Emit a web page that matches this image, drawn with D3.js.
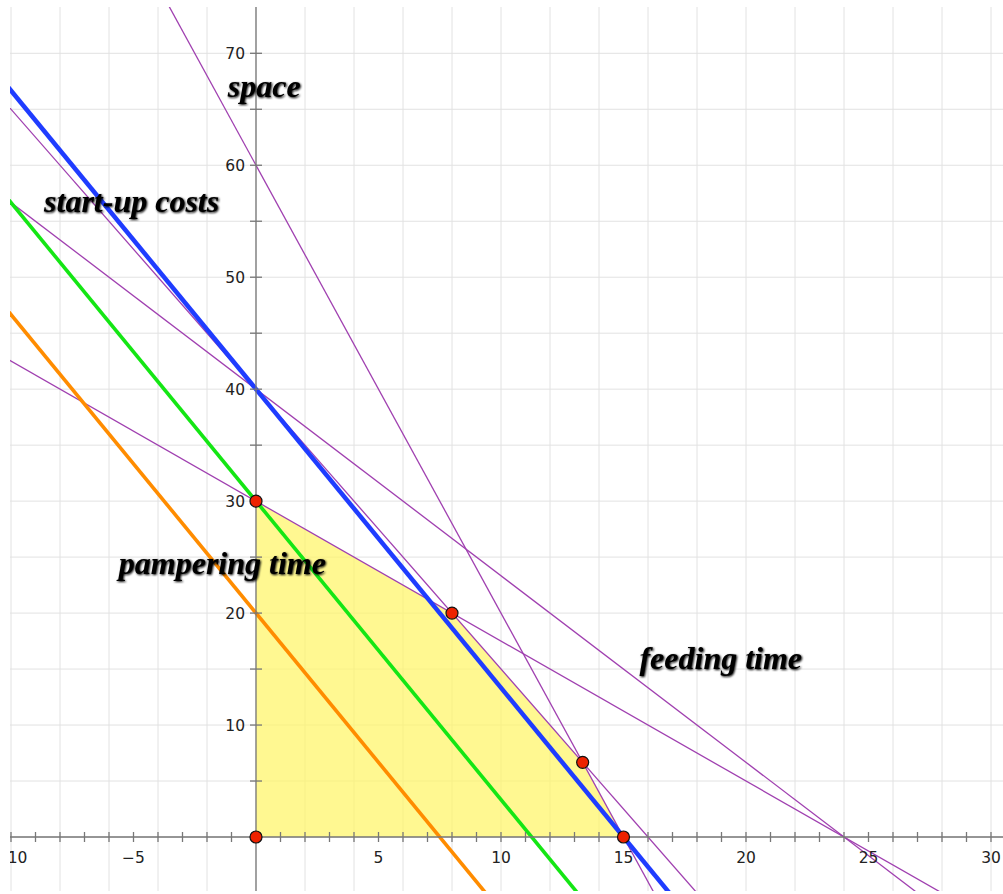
<!DOCTYPE html>
<html>
<head>
<meta charset="utf-8">
<script src="https://cdn.jsdelivr.net/npm/d3@7"></script>
<style>
  body { margin: 0; background: #fff; }
  svg { display: block; }
  .tick-label { font-family: "DejaVu Sans", sans-serif; font-size: 15.5px; fill: #222; }
  .note { font-family: "Liberation Serif", "Times New Roman", serif; font-weight: bold; font-style: italic; font-size: 32px; fill: #000; }
</style>
</head>
<body>
<svg id="chart" width="1003" height="894"></svg>
<script>
// constraint lines, given by where they cut the axes (x-intercept, y-intercept)
let constraintNames = ["space", "feeding", "start-up", "pampering"];
let constraintXInt = [15, 16, 24, 24];
let constraintYInt = [60, 40, 40, 30];

// objective (level) lines, all parallel
let levelColors = ["#1f3cff", "#14e614", "#ff8c00"];
let levelXInt = [15, 11.25, 7.5];
let levelYInt = [40, 30, 20];

// corner points of the feasible region
let cornerX = [0, 0, 8, 13.333, 15];
let cornerY = [0, 30, 20, 6.667, 0];

// region polygon order
let regionX = [0, 0, 8, 13.333, 15];
let regionY = [0, 30, 20, 6.667, 0];

let xTicks = d3.range(-10, 31, 1);
let xLabels = [-10, -5, 5, 10, 15, 20, 25, 30];
let yTicks = d3.range(5, 71, 5);
let yLabels = [10, 20, 30, 40, 50, 60, 70];

// text labels on the plot
let noteText = ["space", "start-up costs", "pampering time", "feeding time"];
let noteX = [-1.15, -8.65, -5.6, 15.65];
let noteY = [66.1, 55.8, 23.5, 14.98];

let svg = d3.select("#chart");
let pLeft = 10, pTop = 7, pRight = 1003, pBottom = 891;

let x = d3.scaleLinear().domain([-10, 30]).range([11, 991]);
let y = d3.scaleLinear().domain([0, 70]).range([837, 53.3]);

let defs = svg.append("defs");
defs.append("clipPath").attr("id", "plot")
    .append("rect")
    .attr("x", pLeft).attr("y", pTop)
    .attr("width", pRight - pLeft).attr("height", pBottom - pTop);

let shadow = defs.append("filter").attr("id", "shadow")
    .attr("x", "-10%").attr("y", "-30%").attr("width", "120%").attr("height", "160%");
shadow.append("feGaussianBlur").attr("in", "SourceAlpha").attr("stdDeviation", 1).attr("result", "b");
shadow.append("feOffset").attr("in", "b").attr("dx", 0.6).attr("dy", 0.6).attr("result", "o");
let merge = shadow.append("feMerge");
merge.append("feMergeNode").attr("in", "o");
merge.append("feMergeNode").attr("in", "SourceGraphic");

let plot = svg.append("g").attr("clip-path", "url(#plot)");

// grid
plot.append("g")
    .selectAll("line")
    .data(d3.range(-10, 31, 2))
    .enter().append("line")
    .attr("x1", d => x(d)).attr("x2", d => x(d))
    .attr("y1", pTop).attr("y2", pBottom)
    .attr("stroke", "#e2e2e2").attr("stroke-width", 1);

plot.append("g")
    .selectAll("line")
    .data(d3.range(-5, 76, 5))
    .enter().append("line")
    .attr("x1", pLeft).attr("x2", pRight)
    .attr("y1", d => y(d)).attr("y2", d => y(d))
    .attr("stroke", "#e2e2e2").attr("stroke-width", 1);

// feasible region
let region = regionX.map((d, i) => [x(d), y(regionY[i])]);
plot.append("polygon")
    .attr("points", region.map(p => p.join(",")).join(" "))
    .attr("fill", "#fff566")
    .attr("fill-opacity", 0.72);

// axes
let axes = svg.append("g").attr("stroke", "#777").attr("stroke-width", 1.3);
axes.append("line")
    .attr("x1", pLeft).attr("x2", pRight)
    .attr("y1", y(0)).attr("y2", y(0));
axes.append("line")
    .attr("x1", x(0)).attr("x2", x(0))
    .attr("y1", pTop).attr("y2", pBottom);
axes.selectAll(".xt")
    .data(xTicks)
    .enter().append("line")
    .attr("class", "xt")
    .attr("x1", d => x(d)).attr("x2", d => x(d))
    .attr("y1", y(0) - 5).attr("y2", y(0) + 5);
axes.selectAll(".yt")
    .data(yTicks)
    .enter().append("line")
    .attr("class", "yt")
    .attr("x1", x(0) - 6).attr("x2", x(0) + 6)
    .attr("y1", d => y(d)).attr("y2", d => y(d));

let labels = svg.append("g").attr("clip-path", "url(#plot)");
labels.selectAll(".xl")
    .data(xLabels)
    .enter().append("text")
    .attr("class", "tick-label")
    .attr("x", d => x(d))
    .attr("y", 863)
    .attr("text-anchor", "middle")
    .text(d => d < 0 ? "\u2212" + Math.abs(d) : d);

labels.selectAll(".yl")
    .data(yLabels)
    .enter().append("text")
    .attr("class", "tick-label")
    .attr("x", x(0) - 11)
    .attr("y", d => y(d))
    .attr("dy", "0.36em")
    .attr("text-anchor", "end")
    .text(d => d);

// lines through two axis intercepts, extended past the plot
function lineEnds(xi, yi) {
    let f = function (t) { return yi - yi / xi * t; };
    return [[x(-12), y(f(-12))], [x(32), y(f(32))]];
}

plot.append("g")
    .selectAll("line")
    .data(constraintNames)
    .enter().append("line")
    .each(function (d, i) {
        let e = lineEnds(constraintXInt[i], constraintYInt[i]);
        d3.select(this)
            .attr("x1", e[0][0]).attr("y1", e[0][1])
            .attr("x2", e[1][0]).attr("y2", e[1][1]);
    })
    .attr("stroke", "#a040b0")
    .attr("stroke-width", 1.3);

plot.append("g")
    .selectAll("line")
    .data(levelColors)
    .enter().append("line")
    .each(function (d, i) {
        let e = lineEnds(levelXInt[i], levelYInt[i]);
        d3.select(this)
            .attr("x1", e[0][0]).attr("y1", e[0][1])
            .attr("x2", e[1][0]).attr("y2", e[1][1]);
    })
    .attr("stroke", d => d)
    .attr("stroke-width", (d, i) => i == 0 ? 4.5 : 3.6);

// corner points
svg.append("g")
    .selectAll("circle")
    .data(cornerX)
    .enter().append("circle")
    .attr("cx", d => x(d))
    .attr("cy", (d, i) => y(cornerY[i]))
    .attr("r", 6)
    .attr("fill", "#ee2200")
    .attr("stroke", "#111")
    .attr("stroke-width", 1.2);

// notes
svg.append("g")
    .selectAll("text")
    .data(noteText)
    .enter().append("text")
    .attr("class", "note")
    .attr("x", (d, i) => x(noteX[i]))
    .attr("y", (d, i) => y(noteY[i]))
    .attr("filter", "url(#shadow)")
    .text(d => d);
</script>
</body>
</html>
